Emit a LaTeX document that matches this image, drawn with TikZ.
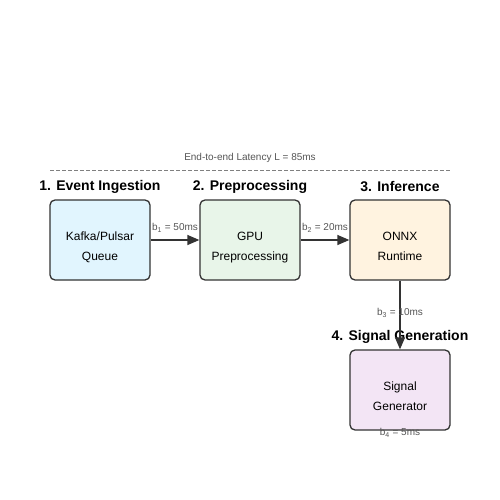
\documentclass[tikz,border=0pt]{standalone}
\usepackage{fontspec}
\setmainfont{Liberation Sans}
\usetikzlibrary{arrows.meta}
\definecolor{edge}{HTML}{333333}
\definecolor{lbl}{HTML}{555555}
\definecolor{cA}{HTML}{E1F5FE}
\definecolor{cB}{HTML}{E8F5E9}
\definecolor{cC}{HTML}{FFF3E0}
\definecolor{cD}{HTML}{F3E5F5}
\tikzset{
  stagebox/.style={draw=edge, line width=1.3pt, rounded corners=5pt, minimum width=100pt, minimum height=80pt, inner sep=0pt},
  boxtext/.style={align=center, font=\fontsize{12}{20}\selectfont, inner sep=0pt},
  title/.style={font=\fontsize{14}{16}\selectfont\bfseries, text=black},
  lat/.style={font=\fontsize{10}{12}\selectfont, text=lbl},
  flow/.style={draw=edge, line width=1.3pt, -{Triangle[length=12pt,width=10pt]}}
}
\begin{document}
\begin{tikzpicture}[x=1pt,y=-1pt]
\useasboundingbox (0,0) rectangle (500,500);
\node[lat] (tot) at (250,158) {End-to-end Latency L = 85ms};
\coordinate (dl) at (50,170);
\coordinate (dr) at (450,170);
\draw[gray, dashed, line width=1pt, dash pattern=on 4pt off 2pt] (dl) -- (dr);
\node[title] (t1) at (100,187) {1. Event Ingestion};
\node[title] (t2) at (250,187) {2. Preprocessing};
\node[title] (t3) at (400,187) {3. Inference};
\node[title] (t4) at (400,337) {4. Signal Generation};
\node[stagebox, fill=cA] (a) at (100,240) {};
\node[stagebox, fill=cB] (b) at (250,240) {};
\node[stagebox, fill=cC] (c) at (400,240) {};
\node[stagebox, fill=cD] (d) at (400,390) {};
\node[boxtext] (at) at (100,246) {\strut Kafka/Pulsar\\\strut Queue};
\node[boxtext] (bt) at (250,246) {\strut GPU\\\strut Preprocessing};
\node[boxtext] (ct) at (400,246) {\strut ONNX\\\strut Runtime};
\node[boxtext] (dt) at (400,396) {\strut Signal\\\strut Generator};
\draw[flow] (a) -- (b);
\draw[flow] (b) -- (c);
\draw[flow] (c) -- (d);
\node[lat] (l1) at (175,228) {b\textsubscript{1} = 50ms};
\node[lat] (l2) at (325,228) {b\textsubscript{2} = 20ms};
\node[lat] (l3) at (400,313) {b\textsubscript{3} = 10ms};
\node[lat] (l4) at (400,433) {b\textsubscript{4} = 5ms};
\end{tikzpicture}
\end{document}
